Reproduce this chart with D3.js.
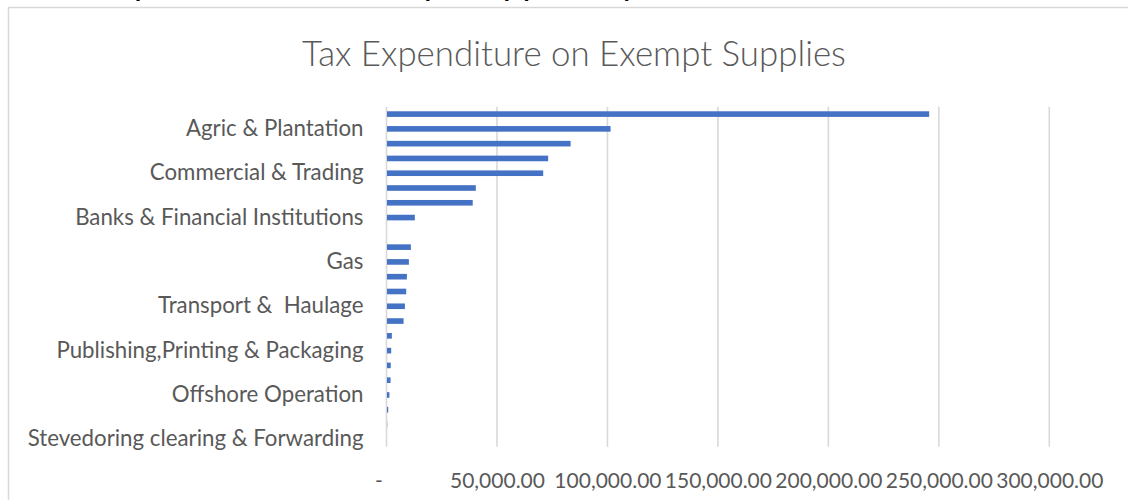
<!DOCTYPE html>
<html>
<head>
<meta charset="utf-8">
<script src="https://cdn.jsdelivr.net/npm/d3@7"></script>
<style>
  html, body { margin: 0; padding: 0; background: #fff; }
  svg { display: block; }
  text { font-family: Lato, "Open Sans", "DejaVu Sans", sans-serif; }
</style>
</head>
<body>
<svg id="chart" width="1128" height="500"></svg>
<script>
// Sectors, top to bottom; only every third label is printed on the axis.
const categories = [
  "", "Agric & Plantation", "",
  "", "Commercial & Trading", "",
  "", "Banks & Financial Institutions", "",
  "", "Gas", "",
  "", "Transport &  Haulage", "",
  "", "Publishing,Printing & Packaging", "",
  "", "Offshore Operation", "",
  "", "Stevedoring clearing & Forwarding"
];
// Tax expenditure per sector
const values = [
  245400, 101200, 83100,
  72950, 70700, 40200,
  38800, 12600, 0,
  10800, 9900, 9000,
  8700, 8100, 7500,
  2200, 1900, 1700,
  1600, 1100, 550,
  100, 0
];
const xTicks = [0, 50000, 100000, 150000, 200000, 250000, 300000];
const titleText = "Tax Expenditure on Exempt Supplies";
const headingText = "Tax Expenditure on Exempt Supplies by Sector";

const svg = d3.select("#chart");
const grey = "#595959";
const gridColor = "#d9d9d9";
const barColor = "#4472C4";

// Fit a text element's font size to a target width
function fitWidth(sel, target) {
  const node = sel.node();
  const base = parseFloat(sel.attr("font-size"));
  const w = node.getComputedTextLength();
  sel.attr("font-size", (base * target / w).toFixed(2));
}

// Document heading line running above the chart frame
svg.append("text")
  .attr("x", 36).attr("y", -5)
  .attr("font-size", 35)
  .attr("fill", "#000")
  .text(headingText);

// Chart frame
svg.append("rect")
  .attr("x", 8.5).attr("y", 7.5)
  .attr("width", 1200).attr("height", 600)
  .attr("fill", "#fff")
  .attr("stroke", gridColor)
  .attr("stroke-width", 1.5);

// Title
const title = svg.append("text")
  .attr("x", 574).attr("y", 52)
  .attr("text-anchor", "middle")
  .attr("dominant-baseline", "central")
  .attr("font-size", 30)
  .attr("font-weight", 300)
  .attr("fill", grey)
  .text(titleText);
fitWidth(title, 544);

const x = d3.scaleLinear().domain([0, 300000]).range([386.5, 1049.3]);
const y = d3.scaleBand().domain(d3.range(categories.length))
  .range([106.7, 446.7]).paddingInner(0.62).paddingOuter(0.31);

// Vertical gridlines (the zero line doubles as the category axis)
svg.append("g")
  .selectAll("line")
  .data(xTicks)
  .join("line")
  .attr("x1", d => x(d)).attr("x2", d => x(d))
  .attr("y1", 106.7).attr("y2", 446.7)
  .attr("stroke", gridColor)
  .attr("stroke-width", 1.6);

// Bars
svg.append("g")
  .selectAll("rect")
  .data(values)
  .join("rect")
  .attr("x", x(0) + 0.5)
  .attr("y", (d, i) => y(i))
  .attr("width", d => Math.max(0, x(d) - x(0)))
  .attr("height", y.bandwidth())
  .attr("fill", barColor);

// Category axis
const yAxis = svg.append("g")
  .attr("transform", `translate(${x(0) - 23},0)`)
  .call(d3.axisLeft(y).tickSize(0).tickPadding(0).tickFormat(i => categories[i]));
yAxis.select(".domain").remove();
yAxis.selectAll("text")
  .attr("font-size", 19)
  .attr("fill", grey)
  .style("white-space", "pre")
  .style("font-family", "Lato, 'Open Sans', sans-serif");

// Value axis
const fmt = d3.format(",.2f");
const xAxis = svg.append("g")
  .attr("transform", "translate(0,473)")
  .call(d3.axisBottom(x).tickValues(xTicks).tickSize(0).tickPadding(0)
    .tickFormat(d => d === 0 ? "-" : fmt(d)));
xAxis.select(".domain").remove();
xAxis.selectAll("text")
  .attr("font-size", 19)
  .attr("fill", grey)
  .attr("dy", "0.71em")
  .style("font-family", "Lato, 'Open Sans', sans-serif");
xAxis.selectAll("text").filter(d => d === 0).attr("dx", -8);

// Size the axis labels to the longest entries
const longest = yAxis.selectAll("text").filter(i => i === categories.length - 1);
const base = 19;
const w1 = longest.node().getComputedTextLength();
yAxis.selectAll("text").attr("font-size", (base * 336 / w1).toFixed(2));
const tick50 = xAxis.selectAll("text").filter(d => d === 50000);
const w2 = tick50.node().getComputedTextLength();
xAxis.selectAll("text").attr("font-size", (base * 95 / w2).toFixed(2));
</script>
</body>
</html>
